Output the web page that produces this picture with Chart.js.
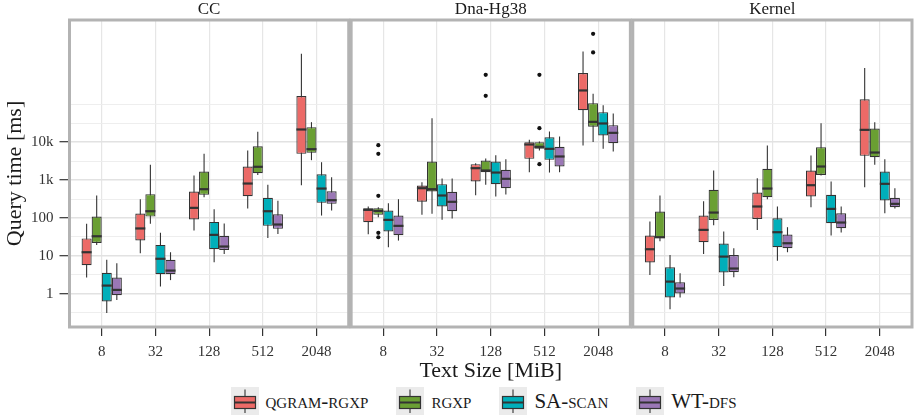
<!DOCTYPE html>
<html lang="en">
<head>
<meta charset="UTF-8">
<title>Query time by text size</title>
<style>
  body { margin: 0; background: #fff; }
  #wrap { width: 919px; height: 418px; font-family: "Liberation Serif", serif; }
  #chartBox { width: 919px; height: 384px; position: relative; }
  #legend { display: flex; justify-content: center; align-items: center; height: 34px; padding-left: 48px; box-sizing: border-box; }
  .item { display: flex; align-items: center; margin: 0 14px; }
  .item span { font-size: 21px; font-variant: small-caps; color: #1a1a1a; margin-left: 7px; white-space: nowrap; }
</style>
</head>
<body>
<div id="wrap">
  <div id="chartBox"><canvas id="queryChart"></canvas></div>
  <div id="legend"></div>
</div>

<script src="https://cdn.jsdelivr.net/npm/chart.js"></script>
<script>
const sizes = ['8', '32', '128', '512', '2048'];
const corpora = ['CC', 'Dna-Hg38', 'Kernel'];
const methods = ['qgram-rgxp', 'rgxp', 'SA-scan', 'WT-dfs'];
const colors = ['#EC6A67', '#6A9F33', '#00AFBA', '#9A77B5'];

// y axis: labelled breaks and the minor grid lines between them
const yMajor = [1, 10, 100, 1000, 10000];
const yLabels = ['1', '10', '100', '1k', '10k'];
const yMinor = [0.316, 3.16, 31.6, 316, 3162, 31623, 100000];

// box stats per text size: [lower whisker, q1, median, q3, upper whisker] in ms
const ccQgram = [[2.7, 5.7, 12.5, 29, 70], [11.8, 25.4, 53, 131, 313], [46.7, 91, 185, 499, 1320], [178, 376, 811, 2280, 6030], [733, 4920, 21600, 164000, 2140000]];
const ccRgxp = [[19.5, 22, 33, 109, 392], [70, 109, 151, 425, 2520], [355, 408, 575, 1680, 4920], [1370, 1520, 2240, 7830, 18700], [3350, 5220, 6530, 24900, 33700]];
const ccSa = [[0.31, 0.63, 1.65, 3.6, 7.9], [1.56, 3.3, 8.4, 19.5, 41], [6.8, 15, 35.9, 79, 171], [29.9, 62, 151, 340, 748], [116, 251, 598, 1430, 2960]];
const ccWt = [[0.69, 0.92, 1.27, 2.7, 6.4], [2.3, 3.3, 4.1, 7.9, 12.5], [11.3, 14.4, 17.7, 33.8, 71.5], [38.1, 51.7, 67.3, 126, 283], [157, 236, 295, 509, 1190]];

const dnaQgram = [[37.4, 77.4, 164, 182, 201], [121, 267, 611, 719, 881], [400, 916, 2060, 2630, 2790], [1610, 3630, 8680, 10000, 11500], [8170, 69800, 231000, 662000, 2470000]];
const dnaRgxp = [[105, 121, 154, 182, 193], [129, 499, 575, 3090, 43000], [748, 1610, 1790, 3280, 3710], [6030, 6670, 7530, 10000, 10400], [10100, 25400, 34300, 107000, 188000]];
const dnaSa = [[16.9, 44, 89.3, 157, 245], [89.3, 201, 392, 780, 1100], [368, 780, 1580, 3090, 4540], [1580, 3420, 6670, 13500, 19100], [6670, 15000, 31100, 61900, 94700]];
const dnaWt = [[25.4, 35.2, 62, 116, 313], [96.9, 151, 267, 490, 1100], [416, 611, 1080, 1860, 3560], [1610, 2280, 4190, 7530, 14100], [5680, 9420, 17600, 28100, 57000]];
const dnaRgxpOutliers = [[8330, 4920, 384, 40.6, 31.1], [], [598000, 167000], [598000, 23400, 2630], [7210000, 2320000]];

const kernelQgram = [[3.16, 6.7, 15, 34.4, 80.7], [11.3, 23, 48.6, 116, 277], [48.6, 94.8, 201, 470, 1120], [193, 368, 733, 1790, 4450], [650, 4360, 21100, 136000, 898000]];
const kernelRgxp = [[24.4, 29.9, 31.1, 148, 392], [64.6, 89, 139, 552, 1790], [313, 355, 598, 1980, 8170], [1320, 1370, 2280, 7380, 31700], [2520, 4020, 5330, 22900, 33700]];
const kernelSa = [[0.39, 0.8, 2.1, 5.0, 10.6], [1.62, 3.64, 9.6, 21.2, 44], [7.4, 16.9, 42.2, 98.9, 201], [34.4, 73, 174, 408, 916], [134, 289, 796, 1680, 3560]];
const kernelWt = [[0.8, 1.02, 1.38, 2.02, 3.5], [2.74, 3.72, 4.65, 10.6, 16], [12.5, 16, 21.6, 36.6, 57.2], [41.4, 53.8, 75.9, 134, 201], [178, 193, 236, 340, 611]];

const stats = [
  [ccQgram, dnaQgram, kernelQgram],
  [ccRgxp, dnaRgxp, kernelRgxp],
  [ccSa, dnaSa, kernelSa],
  [ccWt, dnaWt, kernelWt]
];
const outliers = [
  [[], [], []],
  [[], dnaRgxpOutliers, []],
  [[], [], []],
  [[], [], []]
];

// panels sit side by side on one linear x axis, 0.6 units of padding each side like ggplot
const panelWidth = sizes.length + 0.2;
const panelGap = 0.045;
function xPos(p, i) { return p * (panelWidth + panelGap) + i; }

const FONT = '"Liberation Serif", serif';

let v_datasets = methods.map((m, k) => {
  let v_data = [];
  for (let p = 0; p < corpora.length; p++) {
    for (let i = 0; i < sizes.length; i++) {
      const s = stats[k][p][i];
      v_data.push({ x: xPos(p, i), y: [s[1], s[3]], stat: s, out: outliers[k][p][i] || [] });
    }
  }
  return {
    label: m,
    data: v_data,
    backgroundColor: colors[k],
    borderColor: '#333',
    borderWidth: 1.2,
    borderSkipped: false,
    categoryPercentage: 0.75,
    barPercentage: 1
  };
});

const boxParts = {
  id: 'boxParts',
  beforeDatasetsDraw(chart) {
    // whiskers go under the boxes
    const { ctx, scales: { y } } = chart;
    ctx.save();
    ctx.strokeStyle = '#333';
    ctx.lineWidth = 1.1;
    chart.data.datasets.forEach((ds, d) => {
      chart.getDatasetMeta(d).data.forEach((bar, j) => {
        const s = ds.data[j].stat;
        ctx.beginPath();
        ctx.moveTo(bar.x, y.getPixelForValue(s[0]));
        ctx.lineTo(bar.x, y.getPixelForValue(s[4]));
        ctx.stroke();
      });
    });
    ctx.restore();
  },
  afterDatasetsDraw(chart) {
    const { ctx, scales: { y } } = chart;
    ctx.save();
    chart.data.datasets.forEach((ds, d) => {
      chart.getDatasetMeta(d).data.forEach((bar, j) => {
        const pt = ds.data[j];
        const my = y.getPixelForValue(pt.stat[2]);
        ctx.strokeStyle = '#333';
        ctx.lineWidth = 2.2;
        ctx.beginPath();
        ctx.moveTo(bar.x - bar.width / 2, my);
        ctx.lineTo(bar.x + bar.width / 2, my);
        ctx.stroke();
        ctx.fillStyle = '#111';
        pt.out.forEach(v => {
          ctx.beginPath();
          ctx.arc(bar.x, y.getPixelForValue(v), 2.1, 0, Math.PI * 2);
          ctx.fill();
        });
      });
    });
    ctx.restore();
  },
  afterDraw(chart) {
    // panel borders and strip titles
    const { ctx, chartArea, scales: { x } } = chart;
    ctx.save();
    corpora.forEach((name, p) => {
      const l = x.getPixelForValue(xPos(p, -0.6));
      const r = x.getPixelForValue(xPos(p, sizes.length - 0.4));
      ctx.strokeStyle = '#b3b3b3';
      ctx.lineWidth = 3;
      ctx.strokeRect(l, chartArea.top, r - l, chartArea.bottom - chartArea.top);
      ctx.fillStyle = '#1a1a1a';
      ctx.font = '17px ' + FONT;
      ctx.textAlign = 'center';
      ctx.textBaseline = 'middle';
      ctx.fillText(name, (l + r) / 2, chartArea.top - 10);
    });
    ctx.restore();
  }
};

const yTicks = yMajor.concat(yMinor).sort((a, b) => a - b);
const isMajor = v => yMajor.indexOf(v) >= 0;

const ctx = document.getElementById('queryChart');
new Chart(ctx, {
  type: 'bar',
  data: { datasets: v_datasets },
  plugins: [boxParts],
  options: {
    responsive: true,
    maintainAspectRatio: false,
    animation: false,
    layout: { padding: { top: 20, right: 7, bottom: 0, left: 0 } },
    plugins: { legend: { display: false }, tooltip: { enabled: false } },
    scales: {
      x: {
        type: 'linear',
        bounds: 'data',
        offset: false,
        min: xPos(0, -0.6),
        max: xPos(corpora.length - 1, sizes.length - 0.4),
        afterBuildTicks: (axis) => {
          let t = [];
          corpora.forEach((c, p) => sizes.forEach((s, i) => t.push({ value: xPos(p, i) })));
          axis.ticks = t;
        },
        afterFit: (axis) => { axis.height = 57; },
        grid: { offset: false, color: '#e6e6e6', lineWidth: 1.2, tickColor: '#333', tickLength: 9, tickWidth: 1.2 },
        border: { display: false },
        ticks: {
          autoSkip: false,
          maxRotation: 0,
          padding: 7,
          color: '#333',
          font: { family: FONT, size: 15 },
          callback: (v, idx) => sizes[idx % sizes.length]
        },
        title: { display: true, text: 'Text Size [MiB]', color: '#1a1a1a', font: { family: FONT, size: 22 }, padding: { top: 0, bottom: 0 } }
      },
      y: {
        type: 'logarithmic',
        bounds: 'data',
        min: 0.1334,
        max: 16670000,
        afterBuildTicks: (axis) => { axis.ticks = yTicks.map(v => ({ value: v })); },
        afterFit: (axis) => { axis.width = 69.5; },
        grid: {
          color: (c) => isMajor(c.tick.value) ? '#e2e2e2' : '#ececec',
          lineWidth: (c) => isMajor(c.tick.value) ? 1.4 : 0.9,
          tickColor: (c) => isMajor(c.tick.value) ? '#333' : 'rgba(0,0,0,0)',
          tickLength: 10,
          tickWidth: 1.2
        },
        border: { display: false },
        ticks: {
          autoSkip: false,
          padding: 6,
          color: '#333',
          font: { family: FONT, size: 15 },
          callback: (v) => isMajor(v) ? yLabels[yMajor.indexOf(v)] : ''
        },
        title: { display: true, text: 'Query time [ms]', color: '#1a1a1a', font: { family: FONT, size: 22 }, padding: { top: 2, bottom: 0 } }
      }
    }
  }
});

// legend under the panels, small box-plot keys on grey squares
const v_legend = document.getElementById('legend');
methods.forEach((m, k) => {
  let v_item = document.createElement('div');
  v_item.className = 'item';
  let v_key = document.createElement('canvas');
  v_key.width = 28;
  v_key.height = 28;
  let g = v_key.getContext('2d');
  g.fillStyle = '#ebebeb';
  g.fillRect(0, 0, 28, 28);
  g.strokeStyle = '#333';
  g.lineWidth = 1.1;
  g.beginPath();
  g.moveTo(14, 2.5);
  g.lineTo(14, 26);
  g.stroke();
  g.fillStyle = colors[k];
  g.lineWidth = 1.2;
  g.fillRect(3.5, 9.5, 21, 12);
  g.strokeRect(3.5, 9.5, 21, 12);
  g.lineWidth = 2;
  g.beginPath();
  g.moveTo(3.5, 15.5);
  g.lineTo(24.5, 15.5);
  g.stroke();
  let v_text = document.createElement('span');
  v_text.textContent = m;
  v_item.appendChild(v_key);
  v_item.appendChild(v_text);
  v_legend.appendChild(v_item);
});
</script>
</body>
</html>
